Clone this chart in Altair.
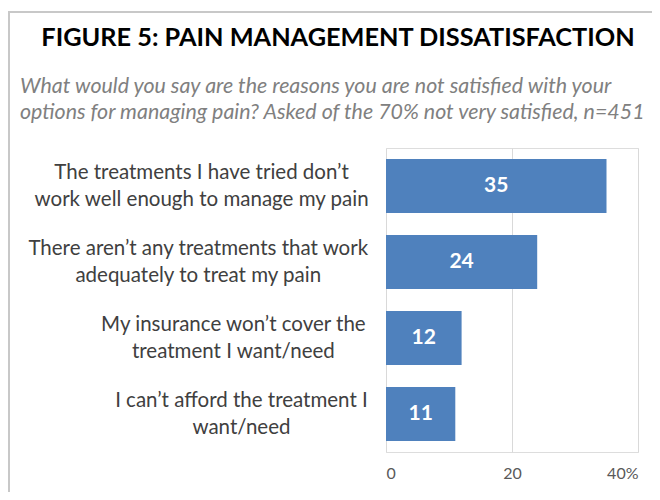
import altair as alt
import pandas as pd

categories = [
    "The treatments I have tried don\u2019t|work well enough to manage my pain",
    "There aren\u2019t any treatments that work|adequately to treat my pain",
    "My insurance won\u2019t cover the|treatment I want/need",
    "I can\u2019t afford the treatment I|want/need",
]
values = [35, 24, 12, 11]
x_ticks = [0, 20, 40]

title_text = ["FIGURE 5: PAIN MANAGEMENT DISSATISFACTION"]
subtitle_lines = [
    "What would you say are the reasons you are not satisfied with your",
    "options for managing pain? Asked of the 70% not very satisfied, n=451",
]

FONT = "Lato"
LABEL_SIZE = 20.5

df = pd.DataFrame({"category": categories, "value": values})

y_enc = alt.Y(
    "category:N",
    sort=categories,
    title=None,
    scale=alt.Scale(paddingInner=0.29),
    axis=None,
)

x_enc = alt.X(
    "value:Q",
    title=None,
    scale=alt.Scale(domain=[0, 40]),
    axis=alt.Axis(
        values=x_ticks,
        labelExpr="datum.value == 40 ? datum.label + '%' : datum.label",
        labelFontSize=16,
        labelColor="#595959",
        labelFont=FONT,
        labelPadding=13,
        ticks=False,
        domain=False,
        grid=True,
        gridColor="#d9d9d9",
        gridWidth=1,
    ),
)

bars = alt.Chart(df).mark_bar(color="#4f81bd").encode(y=y_enc, x=x_enc)

labels = (
    alt.Chart(df)
    .transform_calculate(half="datum.value / 2")
    .mark_text(color="white", fontWeight="bold", fontSize=21, font=FONT, baseline="middle", align="center")
    .encode(y=alt.Y("category:N", sort=categories), x=alt.X("half:Q"), text=alt.Text("value:Q"))
)

# category labels: each two-line block is centred on itself and right-aligned to the axis
narrow = 'regexp("[ilftjrI\u2019 ]", "g")'
em_wide, em_narrow = 0.563, 0.29
cat_labels = (
    alt.Chart(df)
    .transform_calculate(
        l0="split(datum.category, '|')[0]",
        l1="split(datum.category, '|')[1]",
    )
    .transform_calculate(
        n0=f"length(datum.l0) - length(replace(datum.l0, {narrow}, ''))",
        n1=f"length(datum.l1) - length(replace(datum.l1, {narrow}, ''))",
    )
    .transform_calculate(
        w0=f"((length(datum.l0) - datum.n0) * {em_wide} + datum.n0 * {em_narrow}) * {LABEL_SIZE}",
        w1=f"((length(datum.l1) - datum.n1) * {em_wide} + datum.n1 * {em_narrow}) * {LABEL_SIZE}",
    )
    .transform_calculate(lx="-19 - max(datum.w0, datum.w1) / 2")
    .mark_text(
        lineBreak="|",
        align="center",
        baseline="middle",
        fontSize=LABEL_SIZE,
        lineHeight=27,
        dy=-13.5,
        font=FONT,
        color="#404040",
    )
    .encode(
        y=alt.Y("category:N", sort=categories),
        x=alt.X("lx:Q", scale=None),
        text="category:N",
    )
)

title_df = pd.DataFrame({"t": title_text})
title = (
    alt.Chart(title_df)
    .mark_text(fontSize=25.3, fontWeight="bold", font=FONT, color="#000000", align="center", baseline="alphabetic")
    .encode(x=alt.value(-48), y=alt.value(-102), text="t:N")
)

sub_df = pd.DataFrame({"t": subtitle_lines, "line": [0, 1]})
subtitle = (
    alt.Chart(sub_df)
    .transform_calculate(py="-55 + datum.line * 26")
    .mark_text(fontSize=21.4, fontStyle="italic", font=FONT, color="#808080", align="left", baseline="alphabetic")
    .encode(x=alt.value(-366), y=alt.Y("py:Q", scale=None), text="t:N")
)

frame_left = alt.Chart(title_df).mark_rule(color="#c8c8c8", strokeWidth=2).encode(
    x=alt.value(-377), y=alt.value(-136), y2=alt.value(400)
)
frame_top = alt.Chart(title_df).mark_rule(color="#c8c8c8", strokeWidth=2).encode(
    x=alt.value(-378), x2=alt.value(300), y=alt.value(-136)
)

chart = (
    alt.layer(frame_left, frame_top, bars, labels, cat_labels, title, subtitle)
    .properties(
        width=252,
        height=304,
        autosize=alt.AutoSizeParams(type="none"),
        padding={"left": 378, "top": 140, "right": 14, "bottom": 40},
    )
    .configure_view(stroke=None)
    .configure(background="white")
)

chart.save("out.html", embed_options={"renderer": "svg", "actions": False})
